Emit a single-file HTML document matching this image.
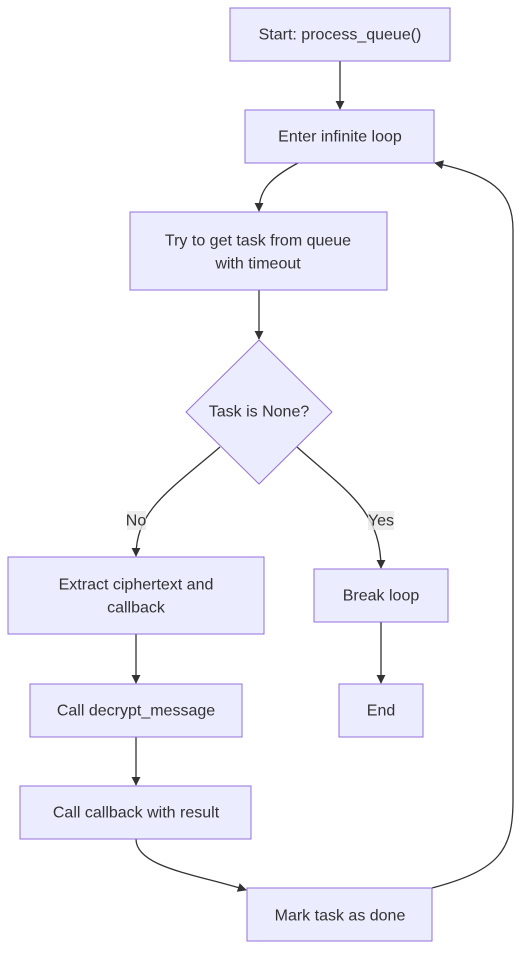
<!DOCTYPE html>
<html><head><meta charset="utf-8"><style>
body{margin:0;background:#fff;}
svg{display:block;font-family:"Liberation Sans","DejaVu Sans",sans-serif;}
.n{fill:#ECECFF;stroke:#9370DB;stroke-width:1;}
.e{fill:none;stroke:#333;stroke-width:1.3;}
text{fill:#333;font-size:16px;text-anchor:middle;dominant-baseline:central;}
</style></head><body>
<svg width="529" height="964" viewBox="0 0 529 964">
<defs><marker id="a" viewBox="0 0 10 10" refX="9" refY="5" markerWidth="7" markerHeight="7" orient="auto"><path d="M0,0L10,5L0,10z" fill="#333"/></marker></defs>
<path class="e" d="M340,61V109" marker-end="url(#a)"/>
<path class="e" d="M298,163C270,178 259,190 259,211" marker-end="url(#a)"/>
<path class="e" d="M259,290V339" marker-end="url(#a)"/>
<path class="e" d="M220,447C170,490 136,510 136,556" marker-end="url(#a)"/>
<path class="e" d="M297,447C345,490 381,510 381,568" marker-end="url(#a)"/>
<path class="e" d="M136,634V683" marker-end="url(#a)"/>
<path class="e" d="M381,622V683" marker-end="url(#a)"/>
<path class="e" d="M136,737V785" marker-end="url(#a)"/>
<path class="e" d="M136,839C136,868 200,875 246,890" marker-end="url(#a)"/>
<path class="e" d="M432,888C500,870 513,850 513,800V230C513,190 490,175 435,163" marker-end="url(#a)"/>
<g transform="translate(0,1)">
<rect x="127" y="510" width="19" height="19" fill="#e8e8e8" opacity=".8"/><text x="136" y="520">No</text>
<rect x="368" y="510" width="26" height="19" fill="#e8e8e8" opacity=".8"/><text x="381" y="520">Yes</text>
</g>
<rect class="n" x="230" y="8" width="220" height="53"/>
<rect class="n" x="245" y="110" width="189" height="53"/>
<rect class="n" x="130" y="212" width="257" height="78"/>
<polygon class="n" points="259,340 332,412 259,484 186,412"/>
<rect class="n" x="8" y="557" width="256" height="77"/>
<rect class="n" x="314" y="569" width="134" height="53"/>
<rect class="n" x="30" y="684" width="212" height="53"/>
<rect class="n" x="339" y="684" width="84" height="53"/>
<rect class="n" x="20" y="786" width="231" height="53"/>
<rect class="n" x="247" y="888" width="185" height="53"/>
<g transform="translate(0,1)">
<text x="340" y="34">Start: process_queue()</text>
<text x="340" y="136">Enter infinite loop</text>
<text x="258" y="240">Try to get task from queue</text><text x="258" y="263">with timeout</text>
<text x="259" y="411">Task is None?</text>
<text x="136" y="584">Extract ciphertext and</text><text x="136" y="607">callback</text>
<text x="381" y="595">Break loop</text>
<text x="136" y="710">Call decrypt_message</text>
<text x="381" y="710">End</text>
<text x="136" y="812">Call callback with result</text>
<text x="340" y="915">Mark task as done</text>
</g>
</svg>
</body></html>
